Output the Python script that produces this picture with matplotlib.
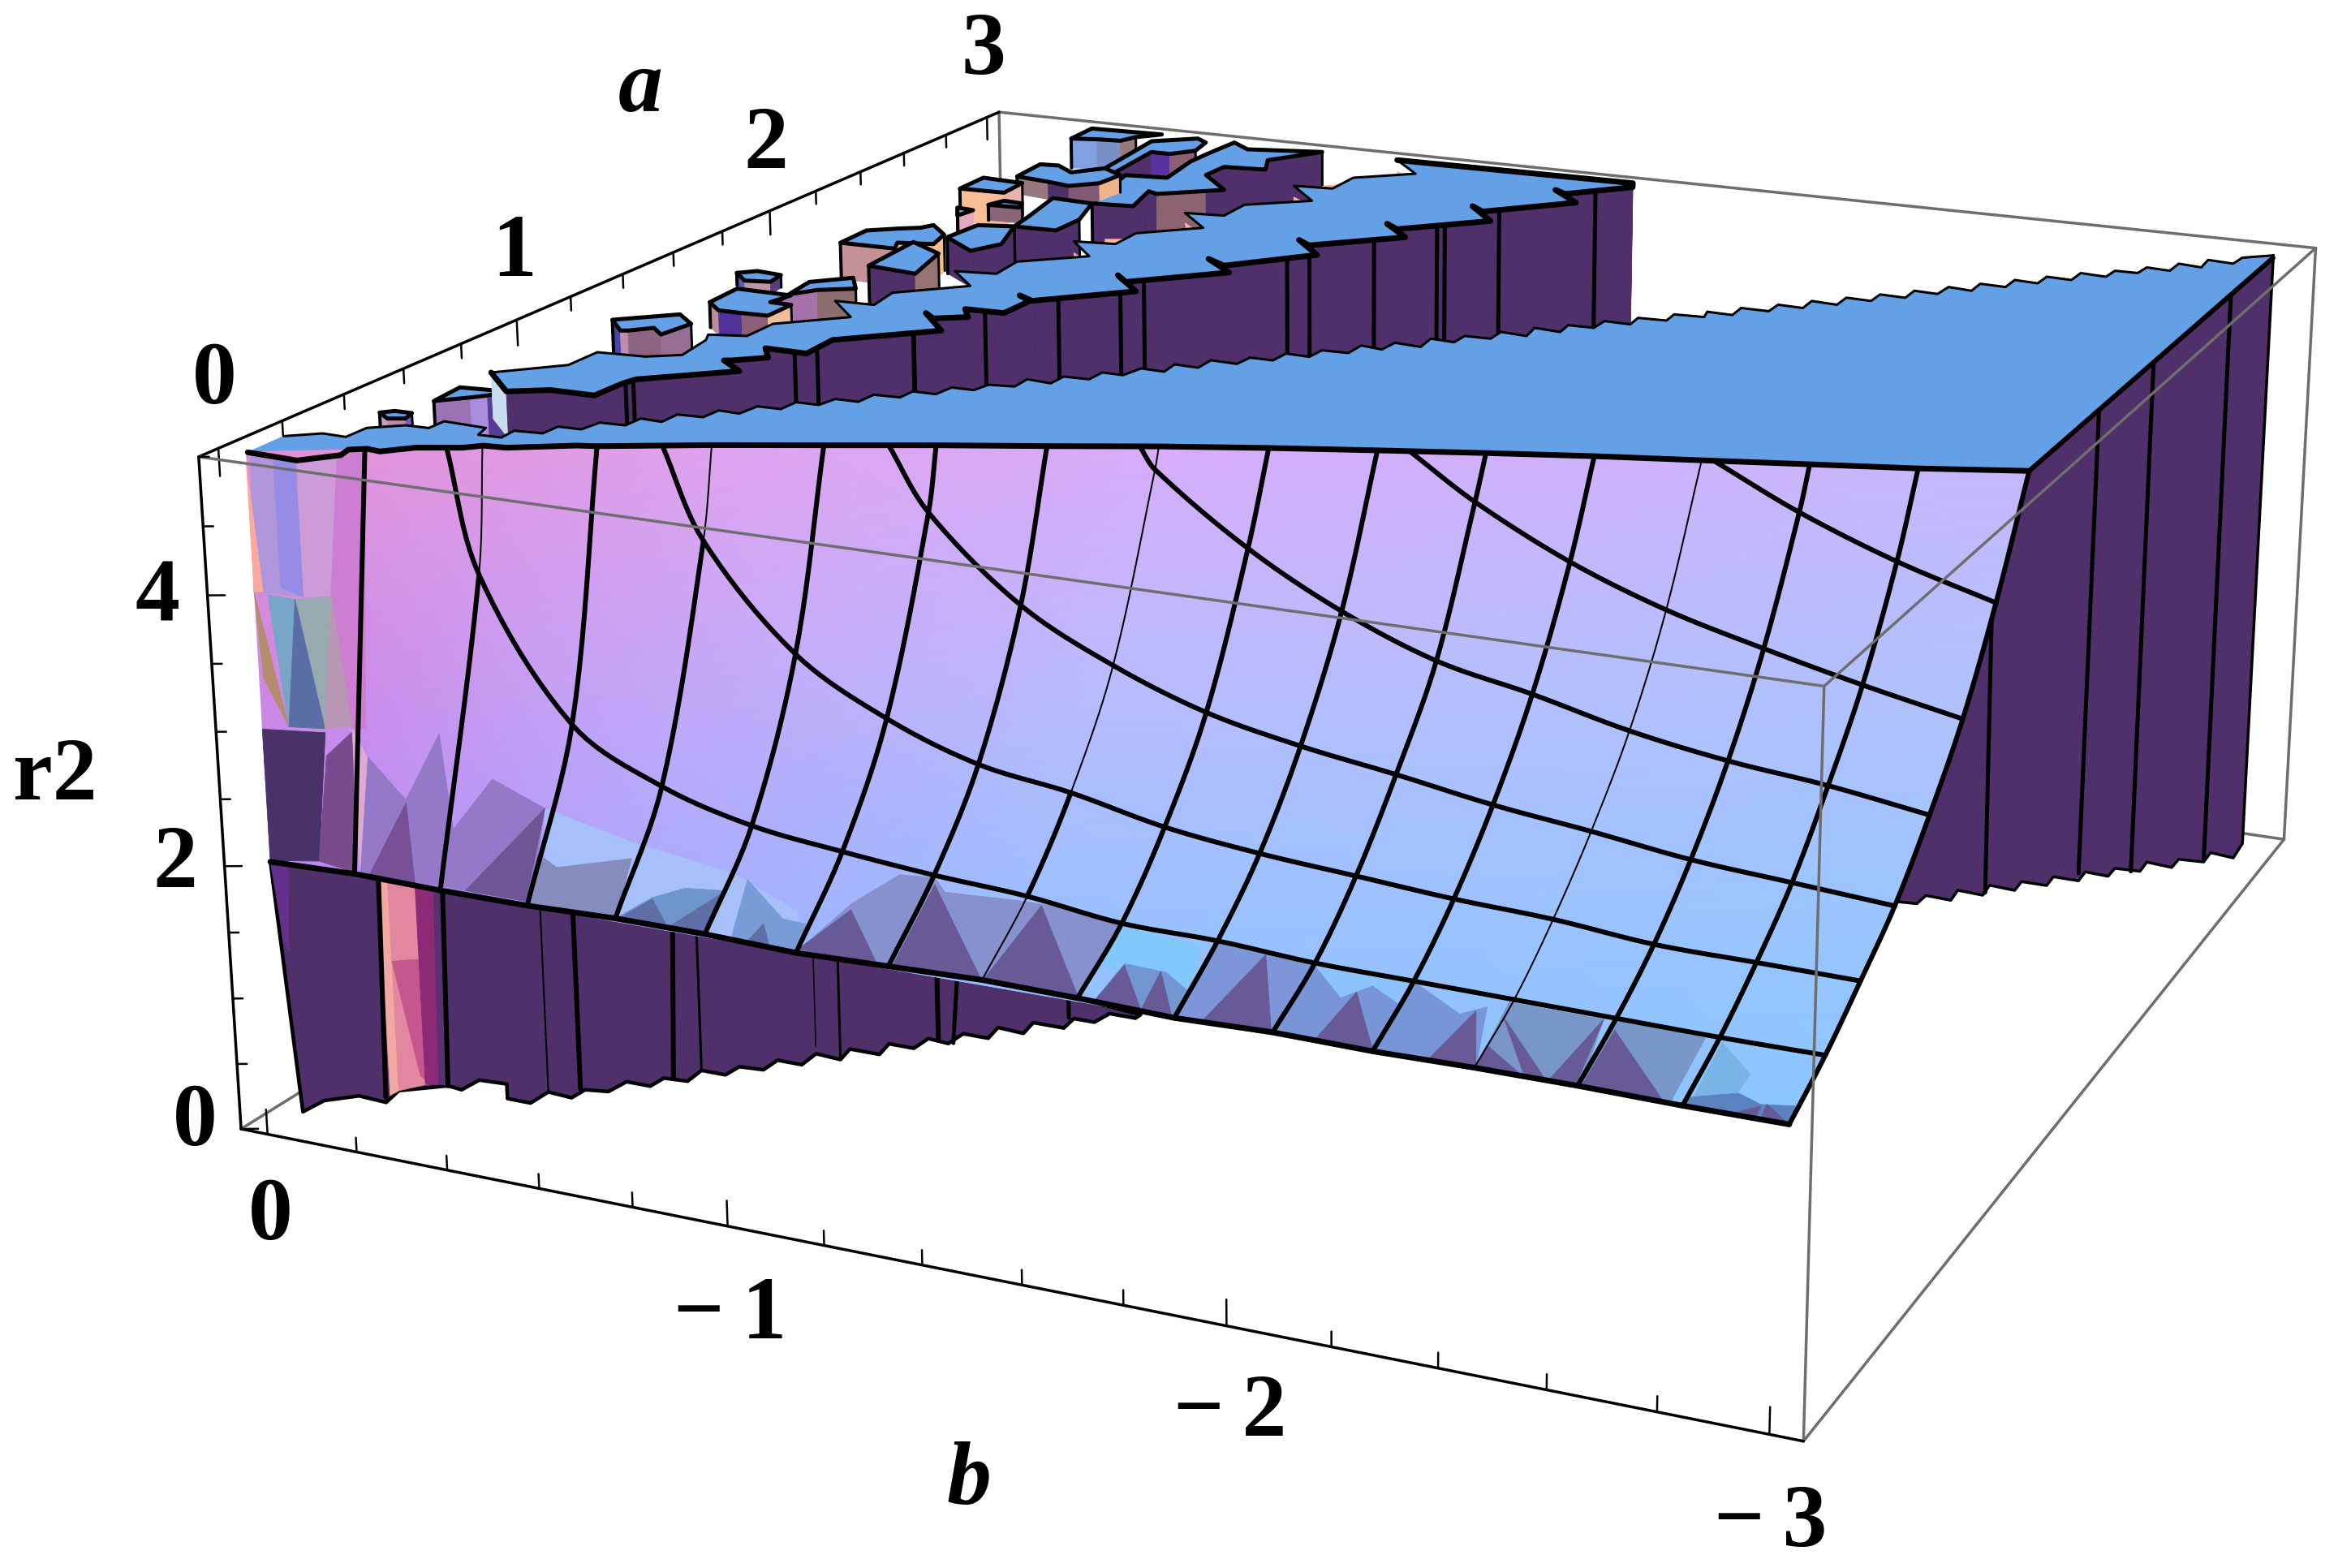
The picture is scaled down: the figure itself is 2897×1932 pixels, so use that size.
"""Clipped r2(a, b) surface with walls, in a fitted perspective view."""
import itertools

import numpy as np
import matplotlib

matplotlib.use("Agg")
import matplotlib.pyplot as plt
from matplotlib.tri import Triangulation

# view: box corners (a, b, r2) and where they sit on the canvas
box_corners = [(-.06, .06, 0), (-.06, .06, 5), (3.06, .06, 5), (3.06, -3.06, 5),
               (-.06, -3.06, 5), (3.06, -3.06, 0), (-.06, -3.06, 0)]
corner_pixels = [(297, 1392), (245, 564), (1231, 139), (2854, 307),
                 (2247, 846), (2814, 1035), (2223, 1777)]

# mesh lines
mesh_a = [0, .175, .35, .525, .705, .88, 1.055]
mesh_b = [-0.1875 * i for i in range(17)]
# r2 per a line, first entry belongs to b index first_b[j]
first_b = [0, 2, 4, 6, 8, 11, 14]
mesh_r2 = [
    [1.99, 2.01, 2.00, 2.00, 2.02, 2.02, 2.00, 2.02, 2.04, 2.03, 2.01, 2.03, 2.02, 2.03, 2.03, 2.02, 2.02],
    [4.11, 3.11, 2.76, 2.58, 2.50, 2.44, 2.40, 2.32, 2.31, 2.27, 2.26, 2.25, 2.24, 2.23, 2.23],
    [4.35, 3.62, 3.25, 3.02, 2.92, 2.78, 2.70, 2.65, 2.60, 2.57, 2.51, 2.50, 2.49],
    [4.55, 3.97, 3.63, 3.39, 3.25, 3.15, 3.04, 2.96, 2.87, 2.82, 2.77],
    [4.85, 4.37, 4.01, 3.75, 3.61, 3.45, 3.34, 3.27, 3.17],
    [4.70, 4.36, 4.11, 3.93, 3.77, 3.63],
    [4.71, 4.45, 4.25],
]
# where each b line reaches the r2=5 clip, and where each a line starts from it
clip_a = [.002, .105, .206, .298, .391, .475, .560, .639, .722, .796, .864, .930, .993, 1.049, 1.106, 1.162, 1.230]
start_b = [None, -.318, -.670, -1.045, -1.470, -1.934, -2.459]
# thin mesh segments: b index -> segment numbers
thin_segments = {2: [1], 4: [2], 8: [0, 2, 3, 4], 13: list(range(8))}

# clip plateau (a, b at r2=5)
front_left = [(.001, -.004), (-.006, -.116), (.056, -.169), (.091, -.161), (.110, -.189), (.105, -.220),
              (.153, -.266), (.188, -.344), (.215, -.371), (.221, -.417), (.286, -.526)]
rear_edge = [
    (.116, -.002), (.161, -.057), (.159, -.109), (.225, -.110), (.270, -.166), (.272, -.215), (.322, -.216),
    (.316, -.311), (.272, -.323), (.274, -.372), (.322, -.369), (.329, -.426), (.379, -.428), (.381, -.477),
    (.434, -.484), (.438, -.537), (.489, -.539), (.486, -.586), (.541, -.587), (.545, -.640), (.597, -.643),
    (.594, -.689), (.651, -.695), (.653, -.744), (.706, -.747), (.707, -.795), (.756, -.803), (.757, -.852),
    (.812, -.855), (.816, -.909), (.863, -.911), (.864, -.960), (.918, -.965), (.919, -1.012), (.964, -1.020),
    (.973, -1.071), (1.029, -1.069), (1.022, -1.123), (1.075, -1.124), (1.078, -1.177), (1.132, -1.178),
    (1.131, -1.223), (1.189, -1.233), (1.186, -1.284), (1.242, -1.279), (1.239, -1.331), (1.298, -1.330),
    (1.295, -1.387), (1.347, -1.391), (1.347, -1.440), (1.403, -1.442), (1.400, -1.493), (1.454, -1.496),
    (1.457, -1.551), (1.518, -1.551), (1.508, -1.600), (1.564, -1.603), (1.557, -1.661), (1.622, -1.655),
    (1.616, -1.707), (1.668, -1.708), (1.670, -1.762), (1.726, -1.761), (1.718, -1.819), (1.782, -1.810),
    (1.774, -1.868), (1.829, -1.863), (1.831, -1.917), (1.888, -1.917), (1.886, -1.973), (1.939, -1.969),
    (1.943, -2.028), (1.994, -2.025), (2.000, -2.087), (2.041, -2.078), (2.038, -2.133), (2.097, -2.130),
    (2.096, -2.189), (2.152, -2.189), (2.148, -2.243), (2.208, -2.241), (2.201, -2.297), (2.262, -2.296),
    (2.258, -2.350), (2.315, -2.350), (2.311, -2.405), (2.372, -2.404), (2.367, -2.455), (2.430, -2.458),
    (2.420, -2.510), (2.482, -2.509), (2.478, -2.564), (2.541, -2.564), (2.534, -2.615), (2.594, -2.616),
    (2.589, -2.670), (2.652, -2.671), (2.644, -2.727), (2.700, -2.730), (2.701, -2.778), (2.754, -2.782),
    (2.747, -2.833), (2.812, -2.834), (2.801, -2.885), (2.868, -2.881), (2.859, -2.937), (2.916, -2.941),
    (2.962, -2.995),
]
shelf = [
    (.646, -.109), (.544, -.209), (.587, -.280), (.589, -.376), (.684, -.380), (.719, -.388), (.852, -.538),
    (.907, -.471), (.913, -.485), (.960, -.539), (1.018, -.499), (1.017, -.592), (1.126, -.588), (1.277, -.749),
    (1.384, -.656), (1.353, -.690), (1.391, -.748), (1.444, -.713), (1.448, -.799), (1.555, -.802), (1.585, -.763),
    (1.557, -.806), (1.712, -.963), (1.814, -.871), (1.771, -.910), (1.929, -1.070), (2.014, -.982), (1.976, -1.036),
    (2.138, -1.174), (2.239, -1.086), (2.205, -1.125), (2.353, -1.281), (2.446, -1.198), (2.411, -1.237),
    (2.560, -1.390), (2.667, -1.303), (2.631, -1.342), (2.790, -1.495), (2.881, -1.410), (2.855, -1.444),
    (2.975, -1.555), (3.010, -1.542), (2.998, -.980), (2.894, -1.070), (2.802, -.960), (2.690, -.960), (2.678, -.872),
    (2.568, -.966), (2.474, -.848), (2.367, -.850), (2.354, -.763), (2.251, -.856), (2.149, -.747), (2.047, -.749),
    (2.031, -.659), (1.931, -.746), (1.828, -.630), (1.721, -.638), (1.705, -.550), (1.611, -.636), (1.497, -.518),
    (1.397, -.531), (1.392, -.444), (1.294, -.535), (1.184, -.420), (1.083, -.420), (1.060, -.345), (1.023, -.362),
    (.908, -.377), (.868, -.318), (.857, -.216), (.754, -.215),
]
shelf_thick_count = 43
shelf_wall_count = 41
shelf_lines = [(.686, -.385), (.701, -.393), (1.007, -.571), (1.034, -.606), (1.237, -.709), (1.227, -.713),
               (1.433, -.764), (1.579, -.854), (1.669, -.949), (1.777, -.949), (2.071, -1.136), (2.121, -1.164),
               (2.294, -1.235), (2.468, -1.305), (2.475, -1.320), (2.635, -1.379), (2.882, -1.504)]
shelf_wall_floor = 3.5

# small raised pieces behind the shelf, back to front
towers = [
    [(2.886, -.217), (2.904, -.274), (2.913, -.329), (2.960, -.345), (3.009, -.387), (2.997, -.214)],
    [(2.616, -.458), (2.841, -.443), (2.841, -.489), (2.894, -.528), (2.977, -.514), (3.006, -.480), (2.938, -.396), (2.655, -.419)],
    [(2.348, -.542), (2.363, -.634), (2.500, -.604), (2.485, -.631), (2.580, -.749), (2.690, -.652), (2.777, -.655), (2.792, -.750),
     (2.877, -.716), (3.001, -.794), (2.955, -.629), (3.004, -.573), (2.882, -.566), (2.793, -.564), (2.631, -.585), (2.616, -.490), (2.474, -.516)],
    [(2.505, -.277), (2.488, -.363), (2.472, -.422), (2.523, -.472), (2.611, -.479), (2.655, -.419), (2.589, -.368), (2.636, -.313), (2.630, -.270)],
    [(2.351, -.216), (2.357, -.322), (2.453, -.317), (2.463, -.215)],
    [(2.244, -.343), (2.250, -.416), (2.285, -.404), (2.291, -.357)],
    [(2.194, -.294), (2.187, -.336), (2.130, -.328)],
    [(2.095, -.484), (2.100, -.581), (2.206, -.583), (2.348, -.542), (2.357, -.442), (2.194, -.470)],
    [(1.952, -.399), (1.869, -.499), (1.947, -.531), (2.095, -.484), (2.073, -.408)],
    [(1.817, -.217), (1.820, -.345), (1.867, -.326), (1.888, -.401), (1.970, -.382), (2.034, -.322), (2.002, -.308), (1.975, -.267), (1.933, -.215)],
    [(1.671, -.366), (1.652, -.486), (1.821, -.449), (1.886, -.354)],
    [(1.506, -.148), (1.458, -.195), (1.471, -.248), (1.528, -.240), (1.537, -.179)],
    [(1.345, -.339), (1.403, -.336), (1.453, -.368), (1.495, -.434), (1.570, -.386), (1.503, -.321)],
    [(1.278, -.219), (1.230, -.268), (1.231, -.321), (1.235, -.379), (1.328, -.379), (1.329, -.330), (1.393, -.341), (1.395, -.214)],
    [(1.079, -.113), (1.015, -.171), (1.021, -.185), (1.060, -.221), (1.022, -.260), (1.117, -.272), (1.171, -.214)],
    [(.431, -.121), (.480, -.170), (.505, -.192), (.544, -.209), (.532, -.113)],
    [(.322, -.073), (.294, -.109), (.308, -.140), (.344, -.130), (.343, -.093)],
]
tower_front_count = [4, 4, 10, 5, 3, 3, 3, 3, 4, 5, 3, 4, 4, 5, 6, 4, 4]
tower_drop = [.26, .2, .5, .15, .28, .13, .2, .3, .3, .3, .3, .1, .25, .2, .25, .35, .12]
DARK = "#50306a"
tower_colors = [
    ["#82a0e0", "#7890c8", "#96787d"],
    ["#50306a", "#5a32a0", "#8c5f73"],
    ["#50306a", "#50306a", "#50306a", "#8c6470", "#50306a", "#50306a", "#50306a", "#50306a", "#50306a"],
    ["#96787d", "#50306a", "#825a78", "#f0b48c"],
    ["#fabe96", "#e6b4af"],
    ["#8c6478", "#8c6478"],
    ["#e6aabe", "#e6aabe"],
    ["#50306a", "#50306a"],
    ["#50306a", "#50306a", "#50306a"],
    ["#c39196", "#9673aa", "#f5be8c", "#f5be8c"],
    ["#50306a", "#967373"],
    ["#645aaa", "#be96aa", "#5a3c78"],
    ["#a573aa", "#a573aa", "#8c6e6e"],
    ["#be8c96", "#50329a", "#8c5f78", "#f0be96"],
    ["#4646aa", "#be8caa", "#8c6482", "#8c6482", "#966e96"],
    ["#9b73b4", "#aa8cdc", "#553c96"],
    ["#bea0c8", "#be8caa", "#825abe"],
]
salmon_bits = [
    [(2.949, -1.002), (2.892, -1.064), (2.866, -1.038)],
    [(2.632, -.893), (2.574, -.961), (2.552, -.930)],
    [(2.321, -.779), (2.249, -.851), (2.226, -.831)],
    [(1.990, -.680), (1.930, -.744), (1.908, -.722)],
    [(1.645, -.579), (1.611, -.636), (1.587, -.611)],
    [(2.750, -.908), (2.797, -.949), (2.701, -.955), (2.692, -.934)],
    [(2.122, -.687), (2.147, -.742), (2.057, -.744), (2.048, -.724)],
]

# front wall in the a=0 plane (b, r2)
front_wall_bottom = [
    (-.04, .11), (-.09, .23), (-.17, .32), (-.23, .31), (-.26, .42), (-.37, .53), (-.40, .52), (-.44, .62), (-.50, .63),
    (-.50, .52), (-.55, .52), (-.59, .63), (-.64, .62), (-.67, .70), (-.72, .72), (-.76, .82), (-.81, .82), (-.84, .90),
    (-.89, .91), (-.92, 1.01), (-.97, 1.01), (-1.00, 1.09), (-1.05, 1.10), (-1.08, 1.19), (-1.13, 1.19), (-1.16, 1.29),
    (-1.21, 1.28), (-1.23, 1.37), (-1.29, 1.37), (-1.31, 1.46), (-1.36, 1.46), (-1.39, 1.55), (-1.43, 1.54), (-1.46, 1.63),
    (-1.51, 1.63), (-1.53, 1.72), (-1.58, 1.71), (-1.60, 1.80), (-1.66, 1.80), (-1.68, 1.88), (-1.72, 1.88), (-1.75, 1.96),
    (-1.80, 1.96), (-1.81, 1.99),
]
slot_polys = [
    [(-.24, 1.99), (-.26, 1.99), (-.26, .42), (-.24, .37)],
    [(-.26, 1.99), (-.33, 2.00), (-.33, .52), (-.26, .42)],
    [(-.26, 1.40), (-.33, 1.46), (-.33, .51), (-.31, .57)],
    [(-.32, 2.00), (-.36, 2.01), (-.35, .53), (-.32, .51)],
    [(-.36, 2.00), (-.37, 2.01), (-.37, .53), (-.35, .53)],
    [(0, 2.00), (-.04, 1.97), (-.03, 1.33), (-.02, 1.39)],
]
slot_colors = ["#f0a8a0", "#e2879f", "#c4588e", "#8c2a78", "#5a3070", "#64308c"]
# pairs of (b, r2) end points, line width in px
front_wall_lines = [
    ((-.24, 2.02), (-.23, .35), 6), ((-.38, 2.01), (-.37, .53), 6), ((-.59, 1.99), (-.59, .63), 2),
    ((-.66, 2.00), (-.66, .70), 6), ((-.87, 2.01), (-.86, .91), 6), ((-.92, 1.99), (-.92, 1.01), 3),
    ((-1.16, 1.99), (-1.16, 1.34), 1.5), ((-1.21, 2.00), (-1.21, 1.30), 3), ((-1.41, 2.00), (-1.41, 1.55), 6),
    ((-1.45, 2.01), (-1.44, 1.55), 5), ((-1.67, 2.01), (-1.67, 1.88), 5),
]

# shapes seen through the surface above the front edge (b, r2)
band_glow = [
    [(-.61, 2.74), (-.79, 2.6), (-1.0, 2.5), (-1.13, 2.3), (-1.13, 2.03), (-.6, 2.03)],
    [(-1.69, 2.6), (-1.93, 2.55), (-1.9, 2.2), (-1.72, 2.3)],
    [(-2.14, 2.55), (-2.33, 2.54), (-2.3, 2.37), (-2.19, 2.35)],
]
band_glow_colors = ["#a8c0fa", "#82c8fa", "#8cc3fa"]
band_light = [
    [(-.20, 2.03), (-.22, 2.94), (-.31, 2.63), (-.34, 2.83), (-.39, 3.16), (-.41, 2.47), (-.50, 2.89), (-.61, 2.74), (-.57, 2.03)],
    [(-.56, 2.03), (-.60, 2.38), (-.63, 2.32), (-.79, 2.48), (-.75, 2.02), (-.65, 2.01)],
    [(-.75, 2.02), (-.83, 2.22), (-.90, 2.33), (-.98, 2.36), (-.94, 2.04), (-.86, 2.02)],
    [(-.99, 2.00), (-1.03, 2.47), (-1.10, 2.23), (-1.15, 2.22), (-1.13, 2.02)],
    [(-1.13, 2.02), (-1.24, 2.42), (-1.34, 2.69), (-1.41, 2.71), (-1.43, 2.62), (-1.59, 2.65), (-1.63, 2.65), (-1.77, 2.61), (-1.69, 2.03), (-1.31, 2.02)],
    [(-1.72, 2.03), (-1.78, 2.33), (-1.86, 2.32), (-1.90, 2.22), (-1.88, 2.02)],
    [(-1.88, 2.02), (-1.96, 2.58), (-2.05, 2.57), (-2.14, 2.55), (-2.06, 2.02)],
    [(-2.06, 2.02), (-2.14, 2.55), (-2.19, 2.35), (-2.25, 2.47), (-2.30, 2.37), (-2.25, 2.02)],
    [(-2.25, 2.02), (-2.33, 2.54), (-2.41, 2.38), (-2.46, 2.46), (-2.44, 2.02)],
    [(-2.44, 2.03), (-2.50, 2.52), (-2.67, 2.51), (-2.63, 2.02)],
    [(-2.63, 2.02), (-2.69, 2.52), (-2.85, 2.50), (-2.79, 2.02)],
    [(-2.83, 2.08), (-2.88, 2.49), (-2.93, 2.31), (-2.91, 2.18)],
    [(-2.82, 2.08), (-2.91, 2.17), (-2.95, 2.12), (-3.01, 2.15), (-3.00, 2.02), (-2.82, 2.02)],
]
band_light_colors = ["#9678c8", "#878cbe", "#6e96cd", "#789cd8", "#8791cd", "#7396d2", "#7d96d7", "#7896d7",
                     "#7896d7", "#7896c8", "#7896c8", "#78b4e6", "#5a82be"]
band_dark = [
    [(-.22, 2.02), (-.31, 2.61), (-.32, 2.02)], [(-.43, 2.03), (-.61, 2.74), (-.56, 2.03)],
    [(-.76, 2.03), (-.83, 2.21), (-.86, 2.02)], [(-.86, 2.02), (-.98, 2.35), (-.94, 2.04)],
    [(-1.02, 2.00), (-1.06, 2.17), (-1.07, 2.02)], [(-1.13, 2.03), (-1.24, 2.38), (-1.29, 2.02)],
    [(-1.32, 2.02), (-1.41, 2.66), (-1.50, 2.03)], [(-1.50, 2.03), (-1.62, 2.64), (-1.69, 2.03)],
    [(-1.72, 2.03), (-1.78, 2.32), (-1.81, 2.03)], [(-1.81, 2.02), (-1.85, 2.32), (-1.87, 2.02)],
    [(-1.93, 2.03), (-2.05, 2.56), (-2.06, 2.02)], [(-2.14, 2.02), (-2.22, 2.41), (-2.25, 2.03)],
    [(-2.35, 2.02), (-2.44, 2.42), (-2.44, 2.02)], [(-2.44, 2.03), (-2.46, 2.20), (-2.53, 2.02)],
    [(-2.49, 2.41), (-2.57, 2.02), (-2.53, 2.02)], [(-2.57, 2.02), (-2.67, 2.51), (-2.62, 2.02)],
    [(-2.63, 2.02), (-2.69, 2.45), (-2.78, 2.02)], [(-2.89, 2.01), (-2.95, 2.11), (-2.94, 2.02)],
    [(-2.95, 2.02), (-2.96, 2.13), (-3.00, 2.02)],
]
band_dark_colors = ["#785096", "#6e5596", "#5f6ea5", "#5f6ea5", "#5f6ea5"] + ["#675a96"] * 14

# facets of the steep left column (b, r2)
column_polys = [
    [(-.01, 4.98), (-.06, 4.97), (-.11, 4.01), (0, 3.99)],
    [(0, 4.91), (0, 3.99), (-.02, 4.00)],
    [(-.06, 4.97), (-.11, 4.99), (-.11, 4.01), (-.06, 4.05)],
    [(-.11, 4.99), (-.20, 5.07), (-.17, 4.04), (-.11, 4.01)],
    [(-.20, 5.07), (-.26, 5.13), (-.23, 3.11), (-.20, 3.09), (-.17, 4.06)],
    [(0, 3.99), (-.06, 3.03), (-.01, 3.36)],
    [(-.03, 3.98), (-.09, 3.98), (-.06, 3.03)],
    [(-.09, 3.98), (-.17, 4.04), (-.14, 3.06), (-.11, 3.04)],
    [(-.09, 3.98), (-.06, 3.03), (-.14, 3.06)],
    [(-.17, 4.05), (-.20, 3.11), (-.14, 3.06)],
    [(0, 2.98), (-.14, 3.03), (-.11, 2.06), (0, 2.00)],
    [(-.14, 2.86), (-.20, 3.07), (-.19, 2.02), (-.11, 2.06)],
    [(-.20, 3.09), (-.23, 2.90), (-.20, 2.04)],
]
column_colors = ["#af96dc", "#faaaa0", "#968ce6", "#cd9bd7", "#cd7dd2", "#b48c6e", "#78a5c8", "#96aaaf",
                 "#5a6ea5", "#b996b4", "#483268", "#784b8c", "#dcaad2"]

# right wall in the b=-3 plane (a, r2)
right_wall = [(.533, 2.79), (.649, 2.62), (.700, 2.61), (.847, 2.38), (.886, 2.40), (1.040, 2.16), (1.080, 2.18), (1.240, 1.93),
              (1.282, 1.94), (1.449, 1.69), (1.492, 1.70), (1.666, 1.44), (1.711, 1.45), (1.875, 1.20), (1.923, 1.20), (2.111, .93),
              (2.160, .94), (2.356, .64), (2.408, .64), (2.613, .35), (2.666, .36), (2.862, .06), (2.935, .09), (2.942, 5.02), (1.219, 5.01)]
right_wall_lines = [((1.671, 5.00), (1.664, 1.50)), ((2.041, 4.99), (2.042, 1.02)), ((2.608, 5.01), (2.612, .37)), ((1.031, 4.25), (1.054, 2.16))]

# colour of the surface: rows r2=5, 3.5, 2; columns b=0, -0.75, -1.5, -3
color_r2 = [5, 3.5, 2]
color_b = [0, -.75, -1.5, -3]
surface_colors = [
    [(228, 142, 212), (224, 162, 238), (216, 172, 250), (198, 184, 252)],
    [(205, 142, 238), (198, 170, 250), (185, 188, 255), (172, 196, 255)],
    [(190, 132, 238), (168, 170, 252), (148, 192, 255), (138, 198, 255)],
]

a_ticks = [i * .2 for i in range(16)]
b_ticks = [-i * .2 for i in range(16)]
r2_ticks = [i * .5 for i in range(11)]
# label, x px, y px, size, weight, style
labels = [
    ("3", 1212, 64, 79, "bold", "normal"), ("2", 944, 180, 79, "bold", "normal"), ("1", 634, 313, 79, "bold", "normal"),
    ("0", 264, 470, 79, "bold", "normal"), ("4", 194, 738, 79, "bold", "normal"), ("2", 216, 1066, 79, "bold", "normal"),
    ("0", 240, 1384, 79, "bold", "normal"), ("0", 333, 1500, 79, "bold", "normal"),
    ("\u2212\u20091", 900, 1622, 79, "bold", "normal"), ("\u2212\u20092", 1516, 1742, 79, "bold", "normal"),
    ("\u2212\u20093", 2182, 1878, 79, "bold", "normal"), ("a", 789, 110, 79, "bold", "italic"),
    ("b", 1194, 1826, 79, "bold", "italic"), ("r2", 68, 958, 79, "bold", "normal"),
]

BLUE = "#63a0e6"
GRAY = "#6e6e6e"
PX = 72 / 100  # one canvas pixel in points

rows, rhs = [], []
for (a, b, z), (u, v) in zip(box_corners, corner_pixels):
    rows.append([a, b, z, 1, 0, 0, 0, 0, -u * a, -u * b, -u * z])
    rows.append([0, 0, 0, 0, a, b, z, 1, -v * a, -v * b, -v * z])
    rhs += [u, v]
cam = np.append(np.linalg.lstsq(np.array(rows, float), np.array(rhs, float), rcond=None)[0], 1).reshape(3, 4)


def project(a, b, z):
    a, b, z = np.broadcast_arrays(np.asarray(a, float), np.asarray(b, float), np.asarray(z, float))
    h = cam @ np.stack([a, b, z, np.ones_like(a)])
    return h[0] / h[2], h[1] / h[2]


def top_xy(pts, z=5.0):
    a, b = np.array(pts).T
    return project(a, b, z)


def front_xy(pts):
    b, z = np.array(pts).T
    return project(0.0, b, z)


def surface_rgb(b, z):
    bs = np.clip(-b, 0, 3)
    u = np.interp(bs, [-x for x in color_b], range(len(color_b)))
    v = np.interp(-z, [-x for x in color_r2], range(len(color_r2)))
    i, j = min(int(u), 2), min(int(v), 1)
    fu, fv = u - i, v - j
    c = np.array(surface_colors, float)
    mix = ((1 - fu) * (1 - fv) * c[j, i] + fu * (1 - fv) * c[j, i + 1]
           + (1 - fu) * fv * c[j + 1, i] + fu * fv * c[j + 1, i + 1]) / 255
    return np.clip(mix, 0, 1)


def smooth_runs(x, y, steps=10):
    """Round the kinks of a mesh polyline; returns one run of points per segment."""
    p = np.column_stack([x, y]).astype(float)
    n = len(p)
    tang = np.zeros_like(p)
    for k in range(n):
        lo, hi = max(k - 1, 0), min(k + 1, n - 1)
        d = p[hi] - p[lo]
        tang[k] = d / (np.linalg.norm(d) + 1e-9)
    runs = []
    for k in range(n - 1):
        chord = np.linalg.norm(p[k + 1] - p[k])
        t = np.linspace(0, 1, steps + 1)[:, None]
        h00, h10 = 2 * t**3 - 3 * t**2 + 1, t**3 - 2 * t**2 + t
        h01, h11 = -2 * t**3 + 3 * t**2, t**3 - t**2
        q = h00 * p[k] + h10 * chord * tang[k] + h01 * p[k + 1] + h11 * chord * tang[k + 1]
        runs.append((q[:, 0], q[:, 1]))
    return runs


fig = plt.figure(figsize=(28.97, 19.33), dpi=100)
ax = fig.add_axes([0, 0, 1, 1])
ax.set_xlim(0, 2897)
ax.set_ylim(1933, 0)
ax.axis("off")
layer = itertools.count(1)


def fill(xy, color, edge=None, lw=0.0):
    ax.fill(xy[0], xy[1], facecolor=color, edgecolor=edge if edge else color,
            lw=lw * PX if edge else 0.6, joinstyle="round", zorder=next(layer))


def line(xy, color="black", lw=5.0):
    ax.plot(xy[0], xy[1], color=color, lw=lw * PX, solid_capstyle="round",
            solid_joinstyle="round", zorder=next(layer))


A0, A1, B0, B1 = -.06, 3.06, .06, -3.06
# back edges of the box
for p, q in [((A1, B0, 5), (A1, B0, 0)), ((A1, B0, 5), (A1, B1, 5)), ((A1, B0, 0), (A0, B0, 0)), ((A1, B0, 0), (A1, B1, 0))]:
    line(project(*np.array([p, q]).T), GRAY, 3.5)
line(project([A0, A1], B0, 5), "black", 3.5)
for t in a_ticks:
    major = abs(t - round(t)) < 1e-6
    line(project(t, B0, [5, 4.8 if major else 4.89]), "black", 2.5)

# right wall
rw_a, rw_z = np.array(right_wall).T
fill(project(rw_a, -3.0, rw_z), DARK, "black", 3.5)
for p, q in right_wall_lines:
    line(project([p[0], q[0]], -3.0, [p[1], q[1]]), "black", 5)

# raised pieces
for top, nf, drop, cols in zip(towers, tower_front_count, tower_drop, tower_colors):
    ta, tb = np.array(top).T
    for k in range(nf - 1):
        qa = [ta[k], ta[k + 1], ta[k + 1], ta[k]]
        qb = [tb[k], tb[k + 1], tb[k + 1], tb[k]]
        qz = [5, 5, 5 - drop, 5 - drop]
        fill(project(qa, qb, qz), cols[k])
    line(project(ta[0], tb[0], [5, 5 - drop]), "black", 4)
    line(project(ta[nf - 1], tb[nf - 1], [5, 5 - drop]), "black", 3)
    fill(top_xy(top), BLUE, "black", 5)

# shelf wall along its lower edge, going down behind the plateau
sa, sb = np.array(shelf).T
fill(project([sa[0], sa[1], sa[1], sa[0]], [sb[0], sb[1], sb[1], sb[0]], [5, 5, 4.65, 4.65]), "#c8dcf0")
for k in range(1, shelf_wall_count):
    fill(project([sa[k], sa[k + 1], sa[k + 1], sa[k]], [sb[k], sb[k + 1], sb[k + 1], sb[k]],
                 [5, 5, shelf_wall_floor, shelf_wall_floor]), DARK)
for poly in salmon_bits:
    fill(top_xy(poly, 4.95), "#fab4a0")
for a_, b_ in shelf_lines:
    line(project(a_, b_, [5, shelf_wall_floor]), "black", 5)
fill(top_xy(shelf), BLUE, "black", 3)
line(top_xy(shelf[:shelf_thick_count]), "black", 7)

# plateau in front
plateau_front = front_left + [(clip_a[i], mesh_b[i]) for i in range(3, 17)]
fill(top_xy(plateau_front + rear_edge[::-1]), BLUE)
line(top_xy(rear_edge), "black", 3)

# front wall
edge_z = mesh_r2[0]
end = 10
fw = [(mesh_b[i], edge_z[i]) for i in range(end)] + [(-1.81, 1.99)] + front_wall_bottom[::-1]
fill(front_xy(fw), DARK, "black", 4.5)
for poly, col in zip(slot_polys, slot_colors):
    fill(front_xy(poly), col)
for p, q, w in front_wall_lines:
    line(front_xy([p, q]), "black", w)

# surface with smooth colours
xs, ys, cs = [], [], []
for j, a_ in enumerate(mesh_a):
    for k, z_ in enumerate(mesh_r2[j]):
        b_ = mesh_b[first_b[j] + k]
        x_, y_ = project(a_, b_, z_)
        xs.append(float(x_)); ys.append(float(y_)); cs.append(surface_rgb(b_, z_))
for i, a_ in enumerate(clip_a):
    x_, y_ = project(a_, mesh_b[i], 5)
    xs.append(float(x_)); ys.append(float(y_)); cs.append(surface_rgb(mesh_b[i], 5))
tri = Triangulation(xs, ys)
mesh = ax.tripcolor(tri, np.zeros(len(xs)), shading="gouraud", zorder=next(layer))
mesh.set_array(None)
mesh.set_facecolor(np.column_stack([np.array(cs), np.ones(len(cs))]))

for poly, col in zip(band_glow, band_glow_colors):
    fill(front_xy(poly), col)
for poly, col in zip(band_light, band_light_colors):
    fill(front_xy(poly), col)
for poly, col in zip(band_dark, band_dark_colors):
    fill(front_xy(poly), col)
for poly, col in zip(column_polys, column_colors):
    fill(front_xy(poly), col)

# mesh lines along a
for j in range(1, len(mesh_a)):
    bb = [start_b[j]] + [mesh_b[first_b[j] + k] for k in range(len(mesh_r2[j]))]
    zz = [5] + mesh_r2[j]
    for run in smooth_runs(*project(mesh_a[j], bb, zz)):
        line(run, "black", 6)
# mesh lines along b
for i in range(1, 17):
    aa, zz = [], []
    for j in range(len(mesh_a)):
        k = i - first_b[j]
        if 0 <= k < len(mesh_r2[j]):
            aa.append(mesh_a[j])
            zz.append(mesh_r2[j][k])
    aa.append(clip_a[i])
    zz.append(5)
    for s, run in enumerate(smooth_runs(*project(aa, mesh_b[i], zz))):
        w = 2 if s in thin_segments.get(i, []) else 6
        line(run, "black", w)
# rim lines
line(project(0, mesh_b, mesh_r2[0]), "black", 7)
line(top_xy(plateau_front), "black", 7)
line(project([clip_a[16], 2.94], -3.0, 5), "black", 6)

# front edges of the box and the near axes
for p, q in [((A0, B0, 5), (A0, B1, 5)), ((A0, B1, 5), (A1, B1, 5)), ((A0, B1, 5), (A0, B1, 0)),
             ((A0, B1, 0), (A1, B1, 0)), ((A1, B1, 5), (A1, B1, 0))]:
    line(project(*np.array([p, q]).T), GRAY, 3.5)
line(project(A0, B0, [0, 5]), "black", 3.5)
line(project(A0, [B0, B1], 0), "black", 3.5)
for t in b_ticks:
    major = abs(t - round(t)) < 1e-6
    line(project(A0, t, [0, .19 if major else .11]), "black", 2.5)
for t in r2_ticks:
    major = t % 2 == 0
    s = 1.0 if major else .58
    line(project([A0, A0 + .0137 * s], [B0, B0 - .029 * s], t), "black", 2.5)

for text, x_, y_, size, weight, style in labels:
    ax.text(x_, y_, text, fontsize=size, fontweight=weight, fontstyle=style, family="Liberation Serif",
            ha="center", va="center", zorder=next(layer))

fig.savefig("out.png", dpi=100)
plt.close(fig)
